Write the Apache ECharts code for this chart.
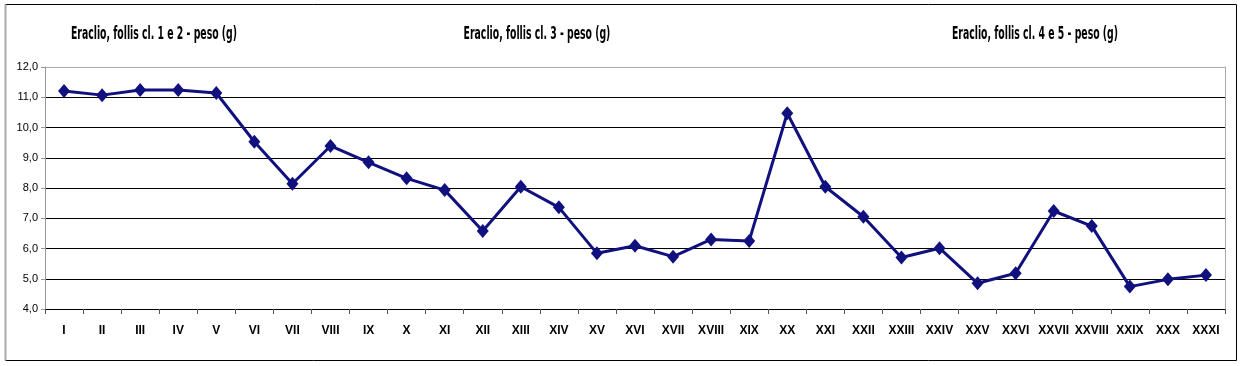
<!DOCTYPE html>
<html><head><meta charset="utf-8">
<script src="https://cdn.jsdelivr.net/npm/echarts@6/dist/echarts.min.js"></script>
<style>html,body{margin:0;padding:0;background:#fff}#c{width:1240px;height:366px}</style>
</head><body><div id="c"></div>
<script>
const categories = ['I','II','III','IV','V','VI','VII','VIII','IX','X','XI','XII','XIII','XIV','XV','XVI','XVII','XVIII','XIX','XX','XXI','XXII','XXIII','XXIV','XXV','XXVI','XXVII','XXVIII','XXIX','XXX','XXXI'];
const weights = [11.21,11.07,11.24,11.24,11.14,9.53,8.14,9.39,8.85,8.32,7.93,6.58,8.04,7.36,5.84,6.09,5.73,6.30,6.25,10.47,8.04,7.05,5.70,6.01,4.85,5.18,7.24,6.74,4.74,4.98,5.12];
const titles = ['Eraclio, follis cl. 1 e 2 - peso (g)','Eraclio, follis cl. 3 - peso (g)','Eraclio, follis cl. 4 e 5 - peso (g)'];
const titleCenters = [154,537,1035];

const chart = echarts.init(document.getElementById('c'));
const titleFont = '"Liberation Sans Narrow","DejaVu Sans Condensed",sans-serif';
chart.setOption({
  animation:false,
  backgroundColor:'#fff',
  grid:{left:45,right:15,top:67,bottom:57},
  graphic:[
    {type:'rect',shape:{x:5.5,y:4.5,width:1231,height:356},style:{fill:'none',stroke:'#000',lineWidth:1},silent:true},
    {type:'line',shape:{x1:5.5,y1:4.5,x2:5.5,y2:360.5},style:{stroke:'#aaa',lineWidth:2},silent:true}
  ].concat(titles.map((t,i)=>({type:'text',x:titleCenters[i],y:34,scaleX:0.69,scaleY:1.2,
    style:{text:t,font:'bold 15px '+titleFont,fill:'#000',textAlign:'center',textVerticalAlign:'middle'}}))),
  xAxis:{type:'category',data:categories,boundaryGap:true,
    axisLine:{lineStyle:{color:'#000',width:1}},
    axisTick:{show:true,length:5,lineStyle:{color:'#555'}},
    axisLabel:{color:'#000',fontWeight:'bold',fontSize:12,fontFamily:'Liberation Sans, Arial, sans-serif',margin:16,interval:0}},
  yAxis:[{type:'value',min:4,max:12,interval:1,
    axisLine:{show:true,lineStyle:{color:'#999',width:1}},
    axisTick:{show:true,length:4,lineStyle:{color:'#999'}},
    axisLabel:{color:'#000',fontSize:11,fontFamily:'Liberation Sans, Arial, sans-serif',margin:7,
      formatter:v=>v.toFixed(1).replace('.',',')},
    splitLine:{show:true,lineStyle:{color:['#000','#000','#000','#000','#000','#000','#000','#000','#aaa'],width:1}}},
    {type:'value',min:4,max:12,interval:1,position:'right',
    axisLine:{show:true,lineStyle:{color:'#aaa',width:1}},axisTick:{show:false},axisLabel:{show:false},splitLine:{show:false}}],
  series:[{type:'line',data:weights,yAxisIndex:0,
    lineStyle:{color:'#10107e',width:3},
    itemStyle:{color:'#10107e'},
    symbol:'diamond',symbolSize:[12,14],showSymbol:true}]
});
</script></body></html>
